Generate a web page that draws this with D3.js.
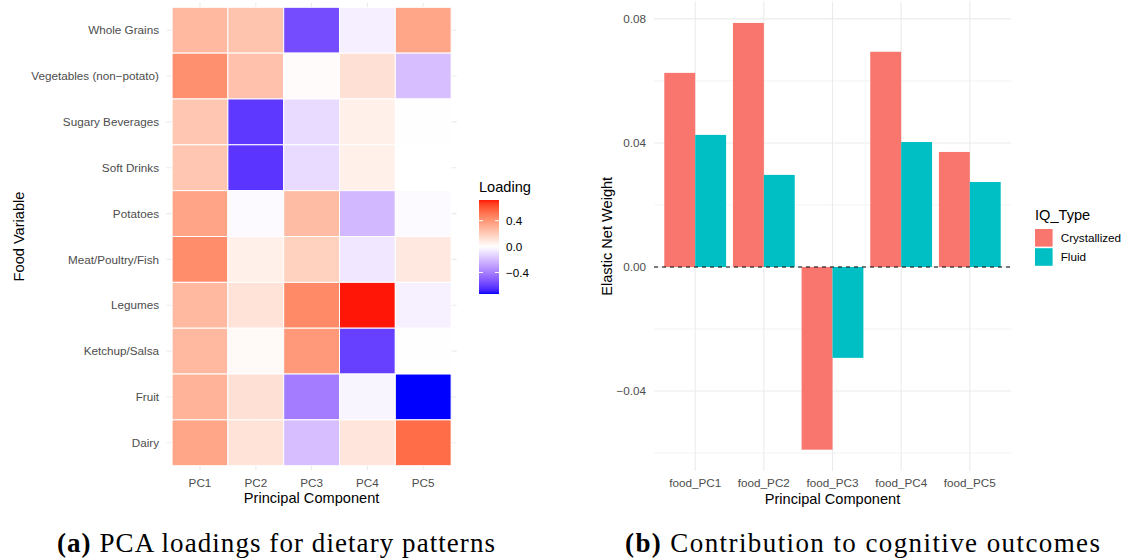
<!DOCTYPE html>
<html>
<head>
<meta charset="utf-8">
<script src="https://cdn.jsdelivr.net/npm/d3@7"></script>
<style>
  html, body { margin: 0; padding: 0; background: #ffffff; }
  svg { display: block; }
  text { font-family: "Liberation Sans", Arial, Helvetica, sans-serif; }
</style>
</head>
<body>
<svg id="chart" width="1123" height="558"></svg>
<script>
// ---------------- Data: (a) PCA loadings ----------------
const foods = ["Whole Grains", "Vegetables (non\u2212potato)", "Sugary Beverages", "Soft Drinks",
  "Potatoes", "Meat/Poultry/Fish", "Legumes", "Ketchup/Salsa", "Fruit", "Dairy"];
const pcs = ["PC1", "PC2", "PC3", "PC4", "PC5"];
const loadPC1 = [0.27, 0.42, 0.22, 0.22, 0.35, 0.43, 0.27, 0.27, 0.29, 0.34];
const loadPC2 = [0.23, 0.24, -0.62, -0.63, -0.015, 0.06, 0.11, 0.02, 0.12, 0.11];
const loadPC3 = [-0.56, 0.015, -0.11, -0.11, 0.26, 0.18, 0.44, 0.39, -0.41, -0.20];
const loadPC4 = [-0.05, 0.12, 0.06, 0.06, -0.22, -0.07, 0.72, -0.60, -0.03, 0.10];
const loadPC5 = [0.34, -0.20, 0.004, 0.0, -0.015, 0.09, -0.045, 0.004, -0.733, 0.54];
const legendBreaks = [-0.4, 0.0, 0.4];

// ---------------- Data: (b) Elastic net weights ----------------
const components = ["food_PC1", "food_PC2", "food_PC3", "food_PC4", "food_PC5"];
const iqTypes = ["Crystallized", "Fluid"];
const crystallized = [0.0626, 0.0787, -0.0589, 0.0694, 0.0371];
const fluid = [0.0426, 0.0297, -0.0293, 0.0403, 0.0274];
const weightBreaks = [-0.04, 0.00, 0.04, 0.08];
const weightMinor = [-0.06, -0.02, 0.02, 0.06];

const svg = d3.select("#chart");
const fmtMinus = s => s.replace("-", "\u2212");
const GRID = "#EBEBEB", TXT = "#4D4D4D";
const TICK_FS = "11.7px", TITLE_FS = "14.6px";

// ================= Panel (a): heatmap =================
(function () {
  const cols = [loadPC1, loadPC2, loadPC3, loadPC4, loadPC5];
  const cells = [];
  pcs.forEach((pc, j) => foods.forEach((f, i) => cells.push({ pc, food: f, v: cols[j][i] })));

  const x = d3.scaleBand().domain(pcs).range([166.5, 456.7]).paddingInner(0).paddingOuter(0.1);
  const y = d3.scaleBand().domain(foods).range([2.7, 470.3]).paddingInner(0).paddingOuter(0.1);
  const vals = cells.map(d => d.v);
  const vmin = d3.min(vals), vmax = d3.max(vals);
  const M = d3.max(vals, v => Math.abs(v));
  const color = d3.scaleLinear().domain([-M, 0, M]).range(["blue", "white", "red"]).interpolate(d3.interpolateLab);

  const g = svg.append("g");
  g.selectAll("line.vx").data(pcs).join("line")
    .attr("x1", d => x(d) + x.bandwidth() / 2).attr("x2", d => x(d) + x.bandwidth() / 2)
    .attr("y1", 2.7).attr("y2", 470.3).attr("stroke", GRID).attr("stroke-width", 1.1);
  g.selectAll("line.hy").data(foods).join("line")
    .attr("y1", d => y(d) + y.bandwidth() / 2).attr("y2", d => y(d) + y.bandwidth() / 2)
    .attr("x1", 166.5).attr("x2", 456.7).attr("stroke", GRID).attr("stroke-width", 1.1);
  g.selectAll("rect.tile").data(cells).join("rect")
    .attr("x", d => x(d.pc)).attr("y", d => y(d.food))
    .attr("width", x.bandwidth()).attr("height", y.bandwidth())
    .attr("fill", d => color(d.v)).attr("stroke", "white").attr("stroke-width", 1);
  g.selectAll("text.yl").data(foods).join("text")
    .attr("x", 159).attr("y", d => y(d) + y.bandwidth() / 2).attr("dy", "0.35em")
    .attr("text-anchor", "end").attr("fill", TXT).style("font-size", TICK_FS).text(d => d);
  g.selectAll("text.xl").data(pcs).join("text")
    .attr("x", d => x(d) + x.bandwidth() / 2).attr("y", 483.3).attr("dy", "0.35em")
    .attr("text-anchor", "middle").attr("fill", TXT).style("font-size", TICK_FS).text(d => d);
  g.append("text").attr("x", 311.6).attr("y", 498.3).attr("dy", "0.35em").attr("text-anchor", "middle")
    .style("font-size", TITLE_FS).attr("fill", "black").text("Principal Component");
  g.append("text").attr("transform", "translate(18.5,236.5) rotate(-90)").attr("dy", "0.35em")
    .attr("text-anchor", "middle").style("font-size", TITLE_FS).attr("fill", "black").text("Food Variable");

  const ly = d3.scaleLinear().domain([vmin, vmax]).range([294, 200]);
  const defs = svg.append("defs");
  const grad = defs.append("linearGradient").attr("id", "lg").attr("x1", 0).attr("x2", 0).attr("y1", 1).attr("y2", 0);
  d3.range(0, 1.0001, 0.02).forEach(t => {
    const v = vmin + t * (vmax - vmin);
    grad.append("stop").attr("offset", t).attr("stop-color", color(v));
  });
  const bx = 479, bw = 20;
  g.append("rect").attr("x", bx).attr("y", 200).attr("width", bw).attr("height", 94).attr("fill", "url(#lg)");
  legendBreaks.forEach(b => {
    const yy = ly(b);
    g.append("line").attr("x1", bx).attr("x2", bx + 4).attr("y1", yy).attr("y2", yy).attr("stroke", "white").attr("stroke-width", 1);
    g.append("line").attr("x1", bx + bw - 4).attr("x2", bx + bw).attr("y1", yy).attr("y2", yy).attr("stroke", "white").attr("stroke-width", 1);
    g.append("text").attr("x", 506).attr("y", yy).attr("dy", "0.35em").style("font-size", TICK_FS)
      .attr("fill", "black").text(fmtMinus(b.toFixed(1)));
  });
  g.append("text").attr("x", 479).attr("y", 186.5).attr("dy", "0.35em").style("font-size", TITLE_FS)
    .attr("fill", "black").text("Loading");
})();

// ================= Panel (b): grouped bars =================
(function () {
  const rows = components.map((c, i) => ({ comp: c, Crystallized: crystallized[i], Fluid: fluid[i] }));
  const x = d3.scalePoint().domain(components).range([654, 1011]).padding(0.6);
  const step = x.step();
  const sub = d3.scaleBand().domain(iqTypes).range([-0.45 * step, 0.45 * step]);
  const all = crystallized.concat(fluid, [0]);
  const lo = d3.min(all), hi = d3.max(all), span = hi - lo;
  const y = d3.scaleLinear().domain([lo - 0.05 * span, hi + 0.05 * span]).range([471, 1.6]);
  const fill = d3.scaleOrdinal().domain(iqTypes).range(["#F8766D", "#00BFC4"]);

  const g = svg.append("g");
  g.selectAll("line.mn").data(weightMinor).join("line")
    .attr("x1", 654).attr("x2", 1011).attr("y1", d => y(d)).attr("y2", d => y(d))
    .attr("stroke", GRID).attr("stroke-width", 0.6);
  g.selectAll("line.mj").data(weightBreaks).join("line")
    .attr("x1", 654).attr("x2", 1011).attr("y1", d => y(d)).attr("y2", d => y(d))
    .attr("stroke", GRID).attr("stroke-width", 1.1);
  g.selectAll("line.vx").data(components).join("line")
    .attr("x1", d => x(d)).attr("x2", d => x(d)).attr("y1", 1.6).attr("y2", 471)
    .attr("stroke", GRID).attr("stroke-width", 1.1);

  const bars = [];
  rows.forEach(r => iqTypes.forEach(t => bars.push({ comp: r.comp, type: t, v: r[t] })));
  g.selectAll("rect.bar").data(bars).join("rect")
    .attr("x", d => x(d.comp) + sub(d.type)).attr("width", sub.bandwidth())
    .attr("y", d => y(Math.max(0, d.v))).attr("height", d => Math.abs(y(d.v) - y(0)))
    .attr("fill", d => fill(d.type));

  g.append("line").attr("x1", 654).attr("x2", 1011).attr("y1", y(0)).attr("y2", y(0))
    .attr("stroke", "black").attr("stroke-width", 1).attr("stroke-dasharray", "4,4");

  g.selectAll("text.yl").data(weightBreaks).join("text")
    .attr("x", 646).attr("y", d => y(d)).attr("dy", "0.35em").attr("text-anchor", "end")
    .attr("fill", TXT).style("font-size", TICK_FS).text(d => fmtMinus(d.toFixed(2)));
  g.selectAll("text.xl").data(components).join("text")
    .attr("x", d => x(d)).attr("y", 483).attr("dy", "0.35em").attr("text-anchor", "middle")
    .attr("fill", TXT).style("font-size", TICK_FS).text(d => d);
  g.append("text").attr("x", 832.5).attr("y", 499).attr("dy", "0.35em").attr("text-anchor", "middle")
    .style("font-size", TITLE_FS).attr("fill", "black").text("Principal Component");
  g.append("text").attr("transform", "translate(606.7,236.3) rotate(-90)").attr("dy", "0.35em")
    .attr("text-anchor", "middle").style("font-size", TITLE_FS).attr("fill", "black").text("Elastic Net Weight");

  g.append("text").attr("x", 1035).attr("y", 215).attr("dy", "0.35em").style("font-size", TITLE_FS)
    .attr("fill", "black").text("IQ_Type");
  iqTypes.forEach((t, i) => {
    const ky = 229 + i * 19.2;
    g.append("rect").attr("x", 1035).attr("y", ky).attr("width", 17.6).attr("height", 17.6).attr("fill", fill(t));
    g.append("text").attr("x", 1060.7).attr("y", ky + 8.8).attr("dy", "0.35em").style("font-size", TICK_FS)
      .attr("fill", "black").text(t);
  });
})();

// ================= Captions =================
function caption(label, rest, x0, x1) {
  const t = svg.append("text").attr("x", x0).attr("y", 551.5)
    .style("font-family", "'Liberation Serif', 'DejaVu Serif', serif").style("font-size", "27px").attr("fill", "black");
  t.append("tspan").style("font-weight", "bold").text(label);
  t.append("tspan").text(" " + rest);
  const natural = t.node().getComputedTextLength();
  const n = (label + " " + rest).length - 1;
  const ls = (x1 - x0 - natural) / n;
  t.style("letter-spacing", ls.toFixed(3) + "px");
}
caption("(a)", "PCA loadings for dietary patterns", 57, 495);
caption("(b)", "Contribution to cognitive outcomes", 625, 1100);
</script>
</body>
</html>
